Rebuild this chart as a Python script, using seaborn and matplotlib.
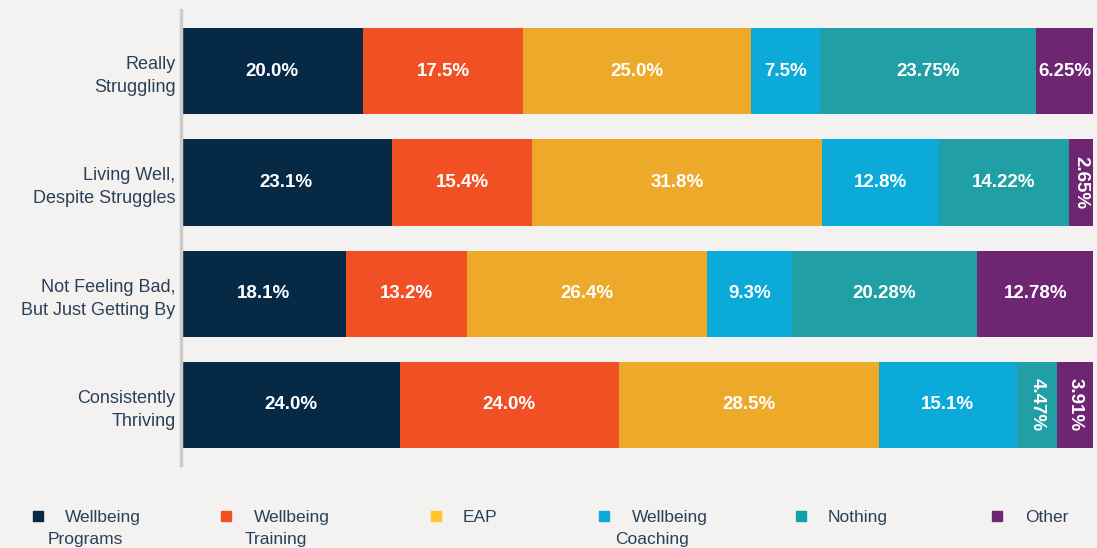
import numpy as np
import pandas as pd
import seaborn as sns
import matplotlib.pyplot as plt
from matplotlib.patches import Rectangle

groups = ["Really\nStruggling", "Living Well,\nDespite Struggles",
          "Not Feeling Bad,\nBut Just Getting By", "Consistently\nThriving"]
series = ["Wellbeing Programs", "Wellbeing Training", "EAP",
          "Wellbeing Coaching", "Nothing", "Other"]
programs = [20.0, 23.1, 18.1, 24.0]
training = [17.5, 15.4, 13.2, 24.0]
eap = [25.0, 31.8, 26.4, 28.5]
coaching = [7.5, 12.8, 9.3, 15.1]
nothing = [23.75, 14.22, 20.28, 4.47]
other = [6.25, 2.65, 12.78, 3.91]
labels = [
    ["20.0%", "17.5%", "25.0%", "7.5%", "23.75%", "6.25%"],
    ["23.1%", "15.4%", "31.8%", "12.8%", "14.22%", "2.65%"],
    ["18.1%", "13.2%", "26.4%", "9.3%", "20.28%", "12.78%"],
    ["24.0%", "24.0%", "28.5%", "15.1%", "4.47%", "3.91%"],
]
legend_lines = [("Wellbeing", "Programs"), ("Wellbeing", "Training"), ("EAP", ""),
                ("Wellbeing", "Coaching"), ("Nothing", ""), ("Other", "")]

bar_colors = ["#062945", "#F15025", "#EDAA2A", "#0BAAD9", "#209FA5", "#6E2673"]
legend_colors = ["#062945", "#F15025", "#FFC72C", "#0BAAD9", "#0FA3A8", "#6E2673"]
bg = "#F3F2F0"
txt = "#2B4058"

sns.set_theme(style="white")
plt.rcParams["font.family"] = ["Liberation Sans", "DejaVu Sans"]

vals = np.array([programs, training, eap, coaching, nothing, other])
cum = vals.cumsum(axis=0)
starts = cum - vals

fig = plt.figure(figsize=(10.97, 5.48), dpi=100, facecolor=bg)
ax = fig.add_axes([0.165, 0.1515, 0.8315, 0.8303])
ax.set_facecolor(bg)

# draw cumulative bars from the longest to the shortest so they stack
for k in range(len(series) - 1, -1, -1):
    df = pd.DataFrame({"group": groups, "value": cum[k]})
    sns.barplot(data=df, x="value", y="group", orient="h", color=bar_colors[k],
                width=0.775, saturation=1, ax=ax, linewidth=0)

for i in range(len(groups)):
    for k in range(len(series)):
        xc = starts[k, i] + vals[k, i] / 2
        rot = -90 if vals[k, i] < 5 else 0
        ax.text(xc, i, labels[i][k], ha="center", va="center", color="white",
                fontsize=13.5, fontweight="bold", rotation=rot)

ax.set_xlim(0, 100)
ax.set_ylim(3.54, -0.55)
ax.set_xlabel("")
ax.set_ylabel("")
ax.set_xticks([])
ax.tick_params(axis="y", length=0, pad=4, labelsize=13, labelcolor=txt)
for lab in ax.get_yticklabels():
    lab.set_horizontalalignment("right")
    lab.set_linespacing(1.45)
for s in ["top", "right", "bottom"]:
    ax.spines[s].set_visible(False)
ax.spines["left"].set_color("#CCCCCC")
ax.spines["left"].set_linewidth(2.5)

# legend laid out along the bottom
W, H = 1097, 548
marker_x = [33, 221, 431, 599, 796, 992]
first_x = [65, 254, 463, 632, 828, 1025]
second_x = [48, 245, 0, 615, 0, 0]
for k in range(len(series)):
    fig.add_artist(Rectangle((marker_x[k] / W, 1 - 521 / H), 10 / W, 10 / H,
                             transform=fig.transFigure, color=legend_colors[k]))
    fig.text(first_x[k] / W, 1 - 522 / H, legend_lines[k][0], ha="left",
             va="baseline", fontsize=12.5, color=txt)
    if legend_lines[k][1]:
        fig.text(second_x[k] / W, 1 - 544 / H, legend_lines[k][1], ha="left",
                 va="baseline", fontsize=12.5, color=txt)

fig.savefig("out.png", dpi=100, facecolor=bg)
